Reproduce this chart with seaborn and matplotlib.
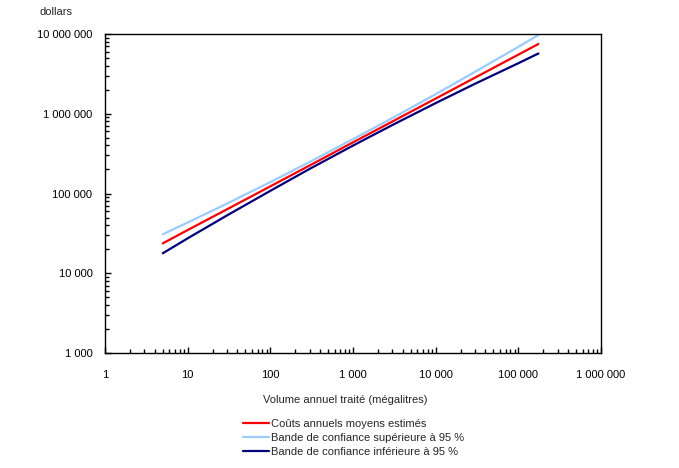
#!/usr/bin/env python3
"""
Coûts annuels moyens estimés selon le volume annuel traité (log-log)
"""

import pandas as pd
import numpy as np
import matplotlib
matplotlib.use('Agg')
import matplotlib.pyplot as plt
import matplotlib.ticker as mticker
import seaborn as sns

# données
volume = [5, 10, 30, 100, 300, 1000, 3000, 10000, 30000, 100000, 175000]
cout_moyen = [23700, 34800, 63500, 123000, 225000, 438000, 800000,
              1550000, 2840000, 5510000, 7500000]
borne_sup = [30800, 43300, 74800, 139000, 249000, 480000, 885000,
             1760000, 3360000, 6900000, 9730000]
borne_inf = [17800, 27400, 53200, 108000, 204000, 399000, 723000,
             1360000, 2380000, 4300000, 5700000]

series = ['Coûts annuels moyens estimés',
          'Bande de confiance supérieure à 95 %',
          'Bande de confiance inférieure à 95 %']
couleurs = ['#FF0000', '#99CCFF', '#000080']

sns.set_style("white")
plt.rcParams['font.family'] = ['Liberation Sans', 'DejaVu Sans']
plt.rcParams['font.size'] = 8


def espace_milliers(v, pos):
    return f"{int(round(v)):,}".replace(",", " ")


def main():
    df = pd.DataFrame({
        'volume': volume * 3,
        'cout': cout_moyen + borne_sup + borne_inf,
        'serie': [series[0]] * len(volume) + [series[1]] * len(volume)
                 + [series[2]] * len(volume),
    })

    fig = plt.figure(figsize=(6.79, 4.68), dpi=100)
    ax = fig.add_axes([105 / 679, 1 - 353 / 468, 496 / 679, 319 / 468])

    sns.lineplot(data=df, x='volume', y='cout', hue='serie',
                 hue_order=series, palette=couleurs, linewidth=1.6,
                 ax=ax, legend=True)

    ax.set_xscale('log')
    ax.set_yscale('log')
    ax.set_xlim(1, 1_000_000)
    ax.set_ylim(1000, 10_000_000)

    fmt = mticker.FuncFormatter(espace_milliers)
    ax.xaxis.set_major_formatter(fmt)
    ax.yaxis.set_major_formatter(fmt)
    ax.xaxis.set_minor_formatter(mticker.NullFormatter())
    ax.yaxis.set_minor_formatter(mticker.NullFormatter())
    ax.xaxis.set_minor_locator(mticker.LogLocator(base=10, subs=np.arange(2, 10)))
    ax.yaxis.set_minor_locator(mticker.LogLocator(base=10, subs=np.arange(2, 10)))

    ax.tick_params(axis='both', which='both', direction='in', color='black',
                   width=1, labelsize=8, labelcolor='black',
                   bottom=True, left=True, top=False, right=False)
    ax.tick_params(axis='both', which='major', length=4)
    ax.tick_params(axis='both', which='minor', length=3)
    ax.tick_params(axis='y', which='major', pad=9)
    ax.tick_params(axis='x', which='major', pad=12)

    for sp in ax.spines.values():
        sp.set_color('black')
        sp.set_linewidth(1.0)
    ax.grid(False)

    ax.set_xlabel('')
    ax.set_ylabel('')
    fig.text(40 / 679, 1 - 12 / 468, 'dollars', fontsize=8, va='center', ha='left')
    fig.text(345 / 679, 1 - 400 / 468, 'Volume annuel traité (mégalitres)',
             fontsize=8, va='center', ha='center')

    handles, labels = ax.get_legend_handles_labels()
    ax.get_legend().remove()
    fig.legend(handles, labels, loc='upper left',
               bbox_to_anchor=(243 / 679, 1 - 419 / 468),
               frameon=False, fontsize=8, handlelength=2.3,
               handletextpad=0.25, labelspacing=0.35, borderpad=0,
               borderaxespad=0)

    fig.savefig('out.png', dpi=100)


if __name__ == '__main__':
    main()
